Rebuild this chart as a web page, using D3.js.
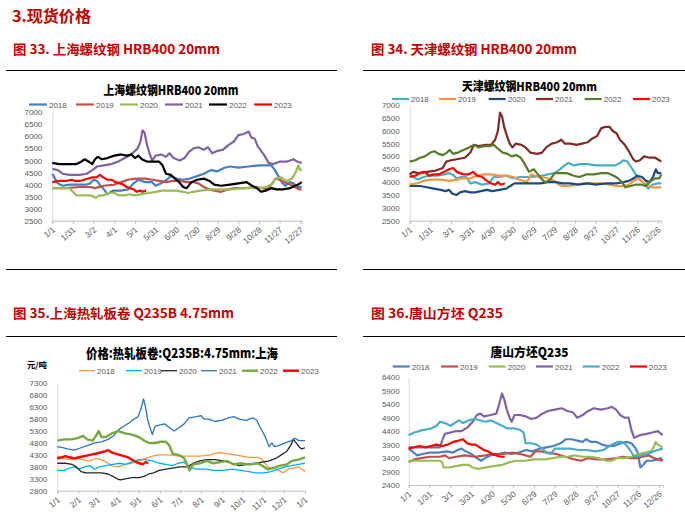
<!DOCTYPE html>
<html><head><meta charset="utf-8">
<script src="https://cdn.jsdelivr.net/npm/d3@7"></script>
<style>body{margin:0;background:#fff}svg{display:block}</style>
</head><body><svg id="c" width="685" height="516"></svg>
<script>
// ---------- DATA ----------
const years = ["2018","2019","2020","2021","2022","2023"];

// Panel 1: 上海螺纹钢 HRB400 20mm  ([day of year, price])
const sh2018 = [[0,4450],[3,4300],[8,4050],[15,3950],[25,4000],[40,4000],[50,4000],[55,4050],[60,4200],[65,4150],[70,3950],[75,3800],[80,3600],[88,3750],[100,3750],[110,3800],[118,4050],[125,4200],[135,4100],[145,4100],[150,3950],[158,4050],[166,4200],[172,4350],[180,4250],[190,4200],[200,4250],[210,4350],[220,4450],[230,4600],[240,4550],[250,4700],[258,4750],[270,4700],[285,4750],[300,4800],[310,4800],[318,4800],[323,4600],[328,4350],[333,4100],[338,3950],[345,4100],[350,4050],[355,3900],[362,3900]];
const sh2019 = [[0,3850],[20,3850],[40,3900],[55,3900],[62,3850],[75,3950],[90,4000],[100,4100],[110,4200],[120,4250],[135,4250],[145,4200],[155,4150],[165,4100],[175,4150],[185,4150],[195,4100],[205,4100],[212,4050],[220,3900],[228,3800],[235,3750],[245,3700],[255,3800],[265,3850],[280,3850],[295,3900],[305,3850],[312,3800],[318,4000],[324,4250],[330,4200],[337,4100],[345,4000],[352,3900],[358,3800],[362,3800]];
const sh2020 = [[0,3850],[15,3850],[25,3850],[30,3700],[35,3550],[45,3550],[55,3550],[60,3500],[63,3450],[68,3550],[75,3550],[80,3650],[90,3650],[97,3550],[105,3550],[112,3600],[120,3550],[130,3600],[140,3650],[150,3700],[160,3750],[170,3750],[180,3750],[190,3700],[197,3650],[205,3700],[215,3750],[230,3800],[245,3800],[260,3800],[275,3850],[290,3850],[300,3850],[310,3900],[318,4000],[325,4250],[332,4300],[340,4150],[348,4250],[353,4500],[357,4800],[360,4600],[362,4600]];
const sh2021 = [[0,4650],[8,4600],[15,4450],[25,4400],[40,4400],[50,4450],[58,4600],[65,4750],[75,4800],[85,4850],[95,4950],[105,5100],[112,5200],[118,5350],[124,5500],[128,5800],[131,6250],[134,6150],[137,5700],[141,5300],[145,5000],[150,5200],[158,5250],[165,5150],[170,5300],[176,5100],[185,5000],[192,5100],[198,5350],[205,5500],[212,5550],[220,5450],[226,5550],[232,5300],[240,5400],[248,5450],[256,5650],[264,5800],[270,6050],[278,6100],[285,6200],[289,5950],[294,5900],[298,5600],[303,5400],[308,5200],[314,4900],[320,4850],[330,4950],[340,4950],[350,5050],[356,4950],[362,4900]];
const sh2022 = [[0,4900],[10,4850],[20,4850],[35,4850],[42,4950],[47,5050],[53,4950],[58,4850],[62,5050],[66,5150],[72,5050],[80,5100],[90,5200],[100,5250],[108,5200],[115,5250],[120,5100],[125,5200],[130,5050],[138,4950],[148,4950],[155,4950],[160,4800],[165,4450],[172,4400],[178,4250],[184,4100],[190,3900],[195,3850],[202,4100],[210,4200],[220,4250],[228,4150],[235,4000],[245,3950],[258,4000],[270,4050],[282,4100],[290,3950],[297,3850],[303,3700],[310,3750],[318,3850],[325,3800],[335,3800],[345,3850],[352,3950],[357,4000],[362,4100]];
const sh2023 = [[0,4100],[10,4150],[20,4150],[28,4200],[33,4150],[40,4150],[46,4200],[52,4250],[58,4300],[64,4300],[69,4400],[74,4300],[80,4200],[86,4200],[92,4100],[98,4050],[103,4000],[108,3900],[113,3850],[118,3800],[122,3700],[127,3750],[131,3700],[136,3750]];

// Panel 2: 天津螺纹钢 HRB400 20mm
const tj2018 = [[0,4300],[5,4200],[12,4100],[20,4200],[28,4250],[40,4250],[50,4300],[57,4350],[62,4300],[68,4150],[75,4200],[82,4200],[88,3950],[95,4000],[105,3900],[115,3950],[122,4200],[130,4200],[140,4250],[150,4150],[160,4200],[170,4200],[180,4200],[192,4250],[200,4300],[210,4350],[218,4500],[225,4650],[230,4750],[238,4650],[248,4700],[258,4700],[270,4650],[285,4650],[298,4650],[305,4750],[310,4850],[316,4800],[322,4550],[328,4300],[334,4100],[340,3950],[346,3750],[352,3900],[360,3950],[365,3950]];
const tj2019 = [[0,3900],[10,3950],[20,4050],[30,4100],[45,4100],[58,4050],[68,4100],[78,4150],[88,4150],[98,4250],[108,4300],[118,4300],[130,4250],[142,4250],[150,4200],[158,4100],[165,4050],[170,4000],[176,4300],[182,4250],[190,4200],[200,4150],[210,4050],[216,3900],[222,3850],[232,3850],[240,3900],[252,3950],[264,3950],[276,3950],[290,3900],[300,3850],[310,3850],[318,3900],[325,4050],[332,4150],[338,4000],[345,3900],[352,3800],[360,3800],[365,3800]];
const tj2020 = [[0,3850],[15,3850],[25,3800],[35,3750],[45,3700],[52,3650],[57,3700],[62,3550],[68,3500],[73,3600],[80,3650],[88,3600],[95,3600],[103,3650],[112,3700],[120,3650],[130,3700],[140,3750],[146,3850],[152,3950],[160,3950],[170,3950],[180,3950],[190,3950],[200,4000],[212,4000],[222,3950],[232,3950],[245,3900],[258,3950],[270,3900],[285,3950],[300,3950],[310,4000],[318,4050],[325,4150],[330,4250],[337,4200],[343,4050],[348,4000],[353,4200],[357,4500],[360,4350],[365,4350]];
const tj2021 = [[0,4300],[5,4400],[12,4350],[25,4400],[38,4450],[48,4550],[53,4800],[60,4850],[70,4900],[80,4950],[88,5150],[93,5450],[100,5400],[110,5450],[118,5450],[124,5650],[128,6000],[131,6700],[134,6550],[137,6150],[141,5800],[145,5500],[149,5350],[154,5500],[162,5450],[168,5350],[175,5150],[185,5100],[192,5150],[198,5350],[206,5500],[214,5550],[220,5650],[225,5500],[233,5500],[242,5450],[250,5500],[258,5550],[265,5700],[272,5800],[278,6100],[284,6150],[290,6150],[294,6000],[300,5900],[305,5650],[312,5450],[318,5200],[324,4900],[328,4800],[334,4850],[340,5000],[348,4950],[356,4950],[362,4850],[365,4800]];
const tj2022 = [[0,4800],[8,4850],[15,4950],[22,5000],[30,5150],[36,5200],[42,5100],[48,5050],[54,5150],[58,5250],[63,5100],[70,5150],[78,5250],[86,5350],[93,5450],[100,5350],[108,5400],[116,5400],[122,5450],[128,5300],[135,5150],[142,5100],[148,5000],[155,5050],[161,4950],[167,4700],[173,4400],[180,4500],[186,4300],[192,4100],[197,4000],[204,4100],[210,4350],[218,4350],[228,4350],[238,4250],[246,4200],[256,4300],[268,4300],[278,4350],[288,4350],[296,4250],[302,4150],[308,4000],[313,3800],[320,3850],[328,3900],[336,3900],[342,3850],[350,4050],[357,4150],[362,4150],[365,4300]];
const tj2023 = [[0,4200],[8,4250],[15,4350],[22,4400],[28,4250],[35,4300],[42,4300],[50,4400],[57,4500],[63,4550],[68,4400],[73,4350],[78,4300],[85,4300],[92,4400],[98,4250],[105,4200],[112,4050],[118,3950],[124,3900],[128,4000],[132,3900],[138,3950]];

// Panel 3: 价格:热轧板卷:Q235B:4.75mm:上海
const hrc2018 = [[0,4250],[8,4150],[18,4100],[28,4150],[38,4100],[48,4050],[56,4150],[65,4100],[72,4000],[80,3850],[90,3800],[100,3900],[110,3950],[120,4050],[130,4150],[140,4250],[150,4300],[165,4300],[180,4250],[195,4250],[210,4250],[225,4300],[238,4400],[250,4350],[262,4300],[272,4250],[282,4200],[294,4200],[300,4150],[305,4000],[310,3800],[318,3750],[326,3650],[333,3550],[340,3700],[348,3750],[355,3800],[360,3700],[365,3600]];
const hrc2019 = [[0,3650],[10,3650],[18,3750],[25,3800],[32,3700],[40,3800],[48,3850],[55,3700],[62,3800],[72,3850],[82,3900],[92,3950],[100,3900],[110,4000],[120,4100],[130,4100],[140,4050],[150,3950],[160,3900],[170,3850],[178,3950],[186,4000],[195,3800],[205,3700],[218,3700],[230,3650],[245,3650],[258,3700],[270,3650],[282,3600],[292,3550],[305,3550],[315,3600],[325,3700],[335,3800],[345,3850],[355,3900],[365,3950]];
const hrc2020 = [[0,3950],[12,3950],[22,3900],[28,3800],[35,3600],[42,3550],[55,3550],[65,3550],[75,3500],[82,3400],[88,3300],[93,3250],[100,3300],[110,3350],[120,3350],[128,3400],[135,3500],[142,3550],[150,3650],[160,3700],[170,3750],[180,3800],[192,3800],[200,3950],[210,4050],[220,4100],[232,4100],[245,4050],[258,3950],[268,3850],[280,3900],[292,3950],[302,4000],[312,4050],[322,4150],[330,4300],[338,4450],[344,4700],[348,4950],[352,4800],[356,4650],[360,4550],[365,4600]];
const hrc2021 = [[0,4650],[8,4600],[15,4550],[25,4500],[35,4600],[45,4700],[55,4800],[65,4850],[75,4950],[83,5100],[90,5350],[98,5500],[106,5650],[113,5800],[119,5900],[123,6200],[127,6650],[130,6300],[133,5800],[136,5500],[140,5150],[144,5500],[150,5550],[158,5600],[165,5450],[172,5300],[180,5450],[187,5600],[194,5850],[205,5900],[212,5950],[216,5800],[224,5800],[232,5700],[242,5750],[252,5850],[260,5900],[268,5800],[278,5750],[288,5850],[294,5750],[298,5500],[303,5250],[308,4950],[312,4650],[316,4800],[320,4650],[327,4700],[336,4800],[345,4900],[350,5000],[356,4900],[365,4900]];
const hrc2022 = [[0,4900],[10,4950],[20,4950],[30,5000],[38,5100],[44,4950],[52,4900],[57,5100],[61,5300],[65,5050],[72,5050],[80,5200],[90,5300],[100,5200],[110,5150],[120,5050],[128,4900],[135,4800],[145,4800],[152,4850],[160,4850],[165,4700],[170,4350],[178,4300],[186,4200],[192,3850],[195,3650],[200,3900],[210,3950],[220,4050],[230,3950],[240,4000],[250,4050],[260,3900],[270,3950],[282,3900],[295,3950],[302,3850],[310,3700],[318,3750],[328,3850],[338,3900],[346,4050],[355,4100],[365,4200]];
const hrc2023 = [[0,4150],[6,4200],[12,4250],[18,4200],[25,4150],[32,4200],[40,4250],[48,4300],[56,4350],[64,4400],[70,4450],[75,4500],[80,4400],[86,4350],[92,4300],[98,4250],[104,4200],[110,4100],[116,4000],[121,3950],[126,3900],[130,4000],[134,3950]];

// Panel 4: 唐山方坯Q235
const ts2018 = [[0,3750],[5,3650],[12,3500],[20,3550],[30,3600],[42,3600],[55,3650],[63,3600],[70,3700],[76,3750],[82,3650],[90,3550],[98,3400],[104,3300],[110,3400],[118,3500],[128,3550],[138,3600],[148,3550],[158,3600],[168,3700],[178,3650],[188,3750],[198,3800],[208,3850],[218,3950],[226,4100],[234,4100],[242,4050],[250,4000],[255,4100],[262,4000],[270,4000],[278,3900],[285,3850],[295,3850],[305,3950],[313,4000],[320,3950],[325,3800],[329,3600],[333,3050],[337,3150],[342,3300],[350,3300],[358,3350],[362,3400],[365,3300]];
const ts2019 = [[0,3250],[8,3350],[18,3400],[30,3450],[45,3450],[52,3500],[58,3400],[68,3450],[80,3500],[95,3450],[110,3500],[120,3550],[135,3550],[148,3600],[160,3550],[168,3500],[175,3450],[182,3650],[190,3650],[200,3600],[212,3550],[225,3450],[238,3350],[248,3300],[258,3400],[270,3350],[285,3350],[298,3400],[308,3450],[318,3400],[328,3400],[336,3450],[345,3500],[352,3400],[358,3350],[365,3300]];
const ts2020 = [[0,3250],[5,3300],[15,3300],[30,3300],[45,3300],[48,3250],[50,3050],[58,3050],[68,3100],[78,3150],[86,3150],[92,3050],[100,3000],[110,3050],[122,3100],[135,3150],[145,3250],[155,3300],[168,3300],[180,3350],[195,3350],[208,3400],[218,3450],[228,3450],[238,3500],[250,3450],[262,3450],[272,3400],[285,3300],[292,3300],[300,3400],[310,3400],[320,3450],[330,3550],[340,3600],[348,3650],[352,3800],[355,4000],[358,3900],[362,3850],[365,3800]];
const ts2021 = [[0,3800],[15,3800],[30,3800],[45,3800],[48,4050],[52,4300],[60,4350],[68,4400],[76,4400],[85,4550],[92,4750],[98,5000],[103,5050],[108,4950],[118,5000],[126,5050],[130,5400],[134,5800],[137,5600],[141,5200],[145,4900],[148,4750],[152,5000],[160,5000],[168,4950],[176,4850],[184,4900],[192,5050],[200,5150],[210,5200],[220,5250],[228,5150],[236,5100],[242,4900],[250,5000],[258,5150],[266,5250],[276,5200],[286,5250],[292,5300],[298,5200],[304,5000],[310,4900],[316,4900],[320,4450],[324,4150],[332,4250],[342,4300],[350,4350],[358,4400],[365,4250]];
const ts2022 = [[0,4250],[8,4350],[15,4400],[22,4450],[32,4500],[40,4600],[45,4750],[52,4700],[60,4600],[66,4700],[72,4800],[78,4700],[86,4800],[95,4850],[103,4800],[110,4750],[118,4800],[126,4700],[134,4600],[142,4500],[152,4500],[160,4450],[165,4350],[168,3950],[176,3950],[184,3900],[192,3750],[198,3600],[204,3550],[210,3750],[220,3750],[232,3750],[244,3700],[256,3700],[268,3650],[280,3700],[292,3900],[300,4000],[306,4000],[312,3900],[318,3700],[324,3450],[334,3500],[344,3550],[352,3650],[358,3700],[365,3750]];
const ts2023 = [[0,3750],[8,3800],[15,3850],[25,3800],[32,3850],[40,3900],[48,3850],[56,3900],[64,4000],[72,4050],[78,4100],[84,3950],[90,3900],[96,3900],[102,3800],[108,3700],[114,3650],[120,3550],[126,3500],[132,3450],[138,3450]];

// tick labels
const xLab30a = ["1/1","1/31","3/2","4/1","5/1","5/31","6/30","7/30","8/29","9/28","10/28","11/27","12/27"];
const xLab30b = ["1/1","1/31","3/1","3/31","4/30","5/30","6/29","7/29","8/28","9/27","10/27","11/26","12/26"];
const xLabMon = ["1/1","2/1","3/1","4/1","5/1","6/1","7/1","8/1","9/1","10/1","11/1","12/1","1/1"];
const xDays30 = [0,30,60,90,120,150,180,210,240,270,300,330,360];
const xDaysMon = [0,31,59,90,120,151,181,212,243,273,304,334,365];
const yTicks1 = [2500,3000,3500,4000,4500,5000,5500,6000,6500,7000];
const yTicks3 = [2800,3300,3800,4300,4800,5300,5800,6300,6800,7300];
const yTicks4 = [2400,2900,3400,3900,4400,4900,5400,5900,6400];

// ---------- DRAW ----------
const svg = d3.select('#c');
svg.append('rect').attr('width',685).attr('height',516).attr('fill','#fff');
const CJK = '"Noto Sans CJK SC","Noto Sans",sans-serif';
const NUM = '"Liberation Sans",Arial,sans-serif';

function head(x,y,t,fs,w){
  const e=svg.append('text').attr('x',x).attr('y',y).attr('fill','#c00000').attr('font-weight',700)
   .attr('font-family',CJK).attr('font-size',fs).text(t);
  if(w) e.attr('textLength',w).attr('lengthAdjust','spacingAndGlyphs');
}
head(12,21.5,'3.现货价格',16,79);
head(13,54,'图 33.  上海螺纹钢 HRB400  20mm',13,207);
head(371,54,'图 34.  天津螺纹钢 HRB400  20mm',13,206);
head(13,317.5,'图 35.上海热轧板卷 Q235B  4.75mm',13,221);
head(371,317.5,'图 36.唐山方坯 Q235',13,132);
[70.5,269.5,336.5].forEach(yy=>{
  svg.append('line').attr('x1',6).attr('x2',337).attr('y1',yy).attr('y2',yy).attr('stroke','#000').attr('stroke-width',1);
  svg.append('line').attr('x1',363).attr('x2',685).attr('y1',yy).attr('y2',yy).attr('stroke','#000').attr('stroke-width',1);
});

function panel(o){
  const x=d3.scaleLinear().domain(o.xDomain).range(o.xRange);
  const y=d3.scaleLinear().domain(o.yDomain).range(o.yRange);
  const g=svg.append('g');
  g.append('text').attr('x',o.titleX).attr('y',o.titleY).attr('text-anchor','middle')
    .attr('font-family',CJK).attr('font-weight',900).attr('font-size',o.titleFs||13).attr('fill','#000')
    .attr('textLength',o.titleW).attr('lengthAdjust','spacingAndGlyphs').text(o.title);
  const yg=g.append('g').attr('transform',`translate(${o.xRange[0]},0)`)
    .call(d3.axisLeft(y).tickValues(o.yTicks).tickSize(0).tickPadding(o.yPad).tickFormat(d3.format('d')));
  yg.select('.domain').attr('stroke','#d9d9d9');
  yg.selectAll('text').attr('fill','#595959').attr('font-size',8).attr('font-family',NUM);
  const xg=g.append('g').attr('transform',`translate(0,${o.yRange[0]})`)
    .call(d3.axisBottom(x).tickValues(o.xTicks).tickSize(3).tickFormat((d,i)=>o.xLabels[i]));
  xg.select('.domain').attr('stroke','#bfbfbf');
  xg.selectAll('.tick line').attr('stroke','#bfbfbf');
  xg.selectAll('text').attr('fill','#595959').attr('font-size',8.5).attr('font-family',NUM)
    .attr('y',0).attr('dy',0).attr('text-anchor','end').attr('transform','translate(3,10) rotate(-40)');
  const line=d3.line().x(d=>x(d[0])).y(d=>y(d[1]));
  o.series.forEach((s,i)=>{
    g.append('path').datum(s).attr('d',line).attr('fill','none').attr('stroke',o.colors[i])
      .attr('stroke-width',o.widths[i]).attr('stroke-linejoin','round');
  });
  years.forEach((yr,i)=>{
    const lx=o.legX[i];
    g.append('line').attr('x1',lx).attr('x2',lx+o.legLen).attr('y1',o.legY).attr('y2',o.legY)
      .attr('stroke',o.colors[i]).attr('stroke-width',o.widths[i]);
    g.append('text').attr('x',lx+o.legLen+2).attr('y',o.legY+3).attr('font-size',8)
      .attr('font-family',NUM).attr('fill','#595959').text(yr);
  });
}

panel({xDomain:[0,362],xRange:[52.3,301.7],yDomain:[2500,7000],yRange:[220.7,112.3],yTicks:yTicks1,yPad:10,
  xTicks:xDays30,xLabels:xLab30a,title:'上海螺纹钢HRB400  20mm',titleX:171,titleY:94.5,titleW:135,titleFs:12.5,
  series:[sh2018,sh2019,sh2020,sh2021,sh2022,sh2023],
  colors:['#4a7ebb','#c0504d','#9bbb59','#8064a2','#000000','#ff0000'],widths:[2.2,2.2,2.2,2.2,2.2,2.2],
  legX:[29,76,120,165,209,254],legLen:18,legY:104.5});

panel({xDomain:[0,365],xRange:[409.7,661.3],yDomain:[2500,7000],yRange:[220.7,105],yTicks:yTicks1,yPad:10,
  xTicks:xDays30,xLabels:xLab30b,title:'天津螺纹钢HRB400  20mm',titleX:529.5,titleY:90.5,titleW:135,titleFs:12,
  series:[tj2018,tj2019,tj2020,tj2021,tj2022,tj2023],
  colors:['#4bacc6','#f79646','#1f497d','#7f2b2b','#5a7a2a','#ff0000'],widths:[2.2,2.2,2.2,2.2,2.2,2.2],
  legX:[392,439,488.7,536,584.7,633],legLen:17,legY:99});

panel({xDomain:[0,365],xRange:[57.3,305],yDomain:[2800,7300],yRange:[490.7,383.3],yTicks:yTicks3,yPad:10,
  xTicks:xDaysMon,xLabels:xLabMon,title:'价格:热轧板卷:Q235B:4.75mm:上海',titleX:182,titleY:358,titleW:192,
  series:[hrc2018,hrc2019,hrc2020,hrc2021,hrc2022,hrc2023],
  colors:['#f79646','#00b0f0','#262626','#2e75b6','#77a843','#ff0000'],widths:[1.3,1.3,1.3,1.3,2.4,2.4],
  legX:[79,126,161,201,242,283],legLen:16,legY:370.7});

panel({xDomain:[0,365],xRange:[408.7,662.7],yDomain:[2400,6400],yRange:[485,377.3],yTicks:yTicks4,yPad:9,
  xTicks:xDays30,xLabels:xLab30b,title:'唐山方坯Q235',titleX:529.5,titleY:356.5,titleW:78,titleFs:12.5,
  series:[ts2018,ts2019,ts2020,ts2021,ts2022,ts2023],
  colors:['#4f81bd','#c0504d','#9bbb59','#8064a2','#4bacc6','#ff0000'],widths:[2.2,2.2,2.2,2.2,2.2,2.2],
  legX:[392.7,441,488.7,536,582.7,630],legLen:17,legY:366.5});

svg.append('text').attr('x',27).attr('y',368).attr('font-family',CJK).attr('font-weight',700)
  .attr('font-size',8).attr('textLength',20).attr('lengthAdjust','spacingAndGlyphs').text('元/吨');
</script></body></html>
